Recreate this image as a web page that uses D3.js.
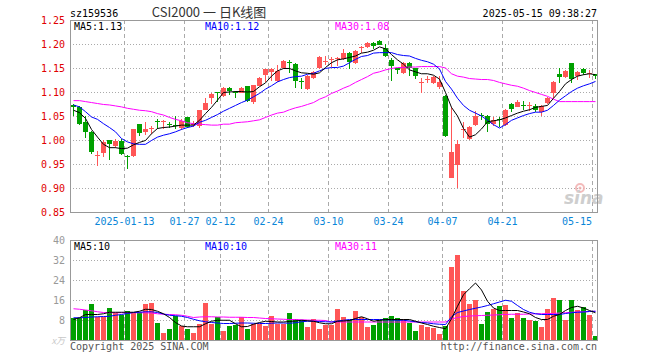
<!DOCTYPE html>
<html>
<head>
<meta charset="utf-8">
<script src="https://cdn.jsdelivr.net/npm/d3@7"></script>
<style>
  body { margin: 0; background: #fff; }
  text { font-family: "DejaVu Sans Mono", monospace; }
</style>
</head>
<body>
<div id="kline"></div>
<script>
// trading days shown on the chart
const dates = [
  "2024-12-30","2024-12-31","2025-01-02","2025-01-03","2025-01-06","2025-01-07","2025-01-08","2025-01-09","2025-01-10","2025-01-13",
  "2025-01-14","2025-01-15","2025-01-16","2025-01-17","2025-01-20","2025-01-21","2025-01-22","2025-01-23","2025-01-24","2025-01-27",
  "2025-02-05","2025-02-06","2025-02-07","2025-02-10","2025-02-11","2025-02-12","2025-02-13","2025-02-14","2025-02-17","2025-02-18",
  "2025-02-19","2025-02-20","2025-02-21","2025-02-24","2025-02-25","2025-02-26","2025-02-27","2025-02-28","2025-03-03","2025-03-04",
  "2025-03-05","2025-03-06","2025-03-07","2025-03-10","2025-03-11","2025-03-12","2025-03-13","2025-03-14","2025-03-17","2025-03-18",
  "2025-03-19","2025-03-20","2025-03-21","2025-03-24","2025-03-25","2025-03-26","2025-03-27","2025-03-28","2025-03-31","2025-04-01",
  "2025-04-02","2025-04-03","2025-04-07","2025-04-08","2025-04-09","2025-04-10","2025-04-11","2025-04-14","2025-04-15","2025-04-16",
  "2025-04-17","2025-04-18","2025-04-21","2025-04-22","2025-04-23","2025-04-24","2025-04-25","2025-04-28","2025-04-29","2025-04-30",
  "2025-05-06","2025-05-07","2025-05-08","2025-05-09","2025-05-12","2025-05-13","2025-05-14","2025-05-15"
];

const opens = [
  1.072,1.068,1.038,1.016,0.967,0.973,0.999,0.987,0.998,0.966,
  0.966,1.033,1.016,1.023,1.039,1.037,1.033,1.031,1.024,1.047,
  1.032,1.028,1.064,1.087,1.099,1.092,1.109,1.100,1.099,1.112,
  1.078,1.114,1.135,1.140,1.123,1.149,1.163,1.158,1.122,1.106,
  1.130,1.149,1.163,1.167,1.168,1.169,1.182,1.161,1.191,1.194,
  1.203,1.207,1.192,1.167,1.149,1.140,1.160,1.149,1.118,1.125,
  1.119,1.110,1.092,0.922,0.948,1.020,1.004,1.032,1.052,1.051,
  1.032,1.043,1.032,1.076,1.070,1.072,1.070,1.070,1.058,1.076,
  1.097,1.138,1.131,1.160,1.133,1.147,1.137,1.137
];
const highs = [
  1.074,1.070,1.049,1.018,0.978,0.999,1.000,1.003,1.002,0.968,
  1.023,1.034,1.038,1.029,1.043,1.041,1.038,1.049,1.043,1.048,
  1.040,1.063,1.088,1.098,1.101,1.111,1.110,1.102,1.111,1.113,
  1.115,1.132,1.148,1.149,1.156,1.166,1.166,1.160,1.130,1.135,
  1.144,1.174,1.176,1.172,1.172,1.190,1.184,1.188,1.196,1.205,
  1.205,1.209,1.199,1.170,1.151,1.162,1.162,1.151,1.130,1.133,
  1.134,1.134,1.093,1.068,1.000,1.038,1.030,1.060,1.056,1.052,
  1.048,1.048,1.064,1.077,1.083,1.082,1.080,1.076,1.073,1.090,
  1.122,1.150,1.145,1.161,1.143,1.150,1.146,1.138
];
const lows = [
  1.050,1.031,1.004,0.970,0.945,0.964,0.959,0.983,0.968,0.940,
  0.964,1.008,1.010,1.012,1.022,1.022,1.024,1.022,1.020,1.024,
  1.028,1.026,1.062,1.076,1.080,1.090,1.093,1.088,1.097,1.079,
  1.074,1.112,1.121,1.122,1.121,1.147,1.140,1.109,1.106,1.104,
  1.128,1.147,1.157,1.152,1.154,1.167,1.147,1.159,1.182,1.192,
  1.189,1.197,1.173,1.123,1.137,1.138,1.134,1.127,1.098,1.119,
  1.117,1.106,1.006,0.920,0.900,1.004,1.000,1.030,1.041,1.016,
  1.030,1.028,1.030,1.058,1.068,1.062,1.061,1.059,1.051,1.074,
  1.087,1.119,1.129,1.119,1.126,1.136,1.130,1.128
];
const closes = [
  1.068,1.033,1.017,0.975,0.969,0.995,0.990,0.997,0.970,0.963,
  1.022,1.015,1.022,1.025,1.037,1.039,1.030,1.029,1.039,1.026,
  1.034,1.062,1.078,1.096,1.097,1.109,1.103,1.098,1.109,1.081,
  1.114,1.130,1.147,1.147,1.144,1.164,1.161,1.122,1.120,1.133,
  1.142,1.172,1.165,1.169,1.170,1.181,1.163,1.186,1.193,1.203,
  1.196,1.199,1.175,1.154,1.144,1.160,1.149,1.132,1.120,1.127,
  1.131,1.121,1.008,0.976,0.992,1.022,1.028,1.051,1.050,1.034,
  1.041,1.041,1.063,1.065,1.080,1.070,1.072,1.061,1.071,1.087,
  1.120,1.131,1.144,1.126,1.141,1.138,1.140,1.133
];

// moving averages as drawn on the price panel
const ma5 = [
  1.062,1.057,1.045,1.022,1.006,0.991,0.984,0.984,0.982,0.983,
  0.990,0.995,0.999,1.013,1.024,1.026,1.027,1.029,1.031,1.031,
  1.031,1.041,1.055,1.068,1.083,1.099,1.100,1.101,1.101,1.100,
  1.101,1.111,1.119,1.133,1.144,1.149,1.149,1.144,1.140,1.139,
  1.137,1.140,1.151,1.161,1.167,1.169,1.172,1.175,1.181,1.183,
  1.187,1.194,1.190,1.178,1.167,1.158,1.146,1.142,1.138,1.138,
  1.135,1.127,1.099,1.068,1.050,1.024,1.006,1.011,1.023,1.038,
  1.040,1.042,1.046,1.051,1.056,1.060,1.063,1.068,1.070,1.072,
  1.087,1.101,1.117,1.126,1.133,1.136,1.138,1.136
];
const ma10 = [
  1.073,1.069,1.059,1.048,1.043,1.034,1.026,1.017,1.003,0.996,
  0.992,0.991,0.991,0.999,1.006,1.010,1.013,1.017,1.022,1.026,
  1.029,1.037,1.041,1.047,1.053,1.060,1.066,1.072,1.078,1.083,
  1.090,1.097,1.106,1.113,1.121,1.126,1.130,1.132,1.133,1.137,
  1.139,1.144,1.149,1.151,1.151,1.154,1.161,1.168,1.174,1.176,
  1.181,1.182,1.182,1.182,1.178,1.176,1.175,1.170,1.166,1.163,
  1.158,1.148,1.122,1.106,1.087,1.072,1.062,1.056,1.050,1.041,
  1.032,1.025,1.032,1.041,1.046,1.051,1.055,1.058,1.058,1.062,
  1.072,1.083,1.092,1.101,1.108,1.113,1.117,1.122
];
const ma30 = [
  1.082,1.082,1.080,1.078,1.076,1.074,1.073,1.071,1.069,1.066,
  1.064,1.062,1.061,1.059,1.055,1.052,1.047,1.043,1.040,1.036,
  1.034,1.033,1.032,1.031,1.031,1.033,1.033,1.036,1.037,1.038,
  1.040,1.042,1.047,1.052,1.056,1.058,1.063,1.067,1.070,1.074,
  1.078,1.085,1.090,1.097,1.102,1.108,1.113,1.120,1.126,1.132,
  1.139,1.142,1.146,1.149,1.151,1.151,1.152,1.152,1.153,1.153,
  1.153,1.153,1.150,1.138,1.133,1.131,1.128,1.127,1.126,1.126,
  1.124,1.120,1.117,1.114,1.112,1.108,1.103,1.099,1.095,1.091,
  1.085,1.080,1.080,1.080,1.080,1.080,1.080,1.080
];

// volume (万) and its averages
const volumes = [
  8.9,8.9,12.2,14.6,9.3,9.3,13.0,10.9,9.9,11.8,
  10.9,11.1,14.6,15.0,7.0,3.0,4.6,9.8,5.6,4.6,
  3.0,6.6,15.0,6.6,9.1,3.6,5.6,6.2,9.4,4.6,
  6.6,6.6,5.8,9.8,6.6,6.6,11.0,8.5,7.9,5.2,
  8.5,4.6,6.2,6.2,12.6,9.1,7.9,11.8,9.1,5.4,
  6.2,7.9,9.0,9.8,9.0,8.5,7.0,3.8,6.2,5.4,
  5.0,2.6,5.8,29.3,34.0,19.7,14.6,15.9,6.6,11.1,
  12.6,13.8,14.2,9.0,10.7,9.0,8.2,7.4,5.4,12.6,
  16.7,16.2,7.9,16.2,12.2,13.1,10.2,1.5
];
const vma5 = [
  8.2,8.9,10.2,10.2,10.2,10.5,11.1,11.1,11.1,11.1,
  11.1,11.5,12.3,12.2,11.5,10.5,9.0,7.0,5.6,5.3,
  5.3,5.3,6.5,7.5,7.9,7.9,7.9,6.5,5.3,5.4,
  6.3,7.0,7.5,7.4,7.2,7.2,7.4,7.6,7.9,7.7,
  7.5,6.9,6.5,6.5,7.5,7.6,7.8,8.6,9.3,8.5,
  7.5,7.9,8.2,8.2,8.2,8.2,8.2,7.5,6.8,6.2,
  5.5,5.0,4.5,8.5,13.5,18.1,20.5,22.8,20.0,15.5,
  12.8,11.8,11.8,11.8,11.8,11.2,10.5,9.0,8.2,8.2,
  9.5,10.2,11.8,13.0,13.5,12.8,11.8,10.9
];
const vma10 = [
  8.9,8.9,9.0,9.2,9.3,9.4,9.5,9.9,10.2,10.6,
  11.0,11.1,11.3,11.3,11.0,10.4,9.9,9.7,9.5,9.0,
  8.3,7.7,7.3,7.0,6.8,6.6,6.6,6.7,6.8,6.8,
  6.7,6.6,6.6,6.7,6.8,6.8,6.7,6.9,7.3,7.5,
  7.5,7.4,7.3,7.2,7.6,7.9,8.2,8.2,8.2,8.2,
  8.2,8.2,8.1,8.0,7.9,7.9,7.6,7.3,7.0,6.8,
  6.5,6.3,6.2,9.3,11.0,11.6,12.2,12.7,13.2,13.8,
  14.5,15.2,15.9,15.5,13.8,12.2,11.1,10.5,10.2,10.2,
  10.2,10.2,10.6,10.9,11.1,11.2,11.4,11.5
];
const vma30 = [
  12.5,12.3,12.0,11.7,11.3,11.0,10.9,10.9,10.9,10.9,
  10.9,10.9,10.9,10.8,10.5,10.3,10.2,10.1,9.9,9.5,
  9.0,9.2,9.3,9.3,9.2,9.2,9.1,9.1,9.1,9.0,
  9.0,8.8,8.6,8.5,8.4,8.3,8.2,8.2,8.1,8.0,
  7.9,7.9,7.8,7.2,7.2,7.2,7.2,7.2,7.2,7.2,
  7.2,7.2,7.2,7.2,7.2,7.2,7.2,7.2,7.2,7.2,
  7.2,7.2,7.2,8.4,9.0,9.4,9.6,9.7,9.8,9.9,
  10.0,10.1,10.2,10.3,10.3,10.3,10.4,10.5,10.5,10.6,
  10.6,10.8,10.9,11.1,11.2,11.3,11.4,11.5
];

// axis ticks and labels
const tickDates = ["2025-01-13","2025-01-27","2025-02-12","2025-02-24","2025-03-10","2025-03-24","2025-04-07","2025-04-21","2025-05-15"];
const tickLabels = ["2025-01-13","01-27","02-12","02-24","03-10","03-24","04-07","04-21","05-15"];
const priceTicks = [0.85, 0.90, 0.95, 1.00, 1.05, 1.10, 1.15, 1.20, 1.25];
const volTicks = [8, 16, 24, 32, 40];
const priceMaLabels = ["MA5:1.13", "MA10:1.12", "MA30:1.08"];
const volMaLabels = ["MA5:10", "MA10:10", "MA30:11"];

const width = 660, height = 360;
const left = 70, right = 598;
const red = "#ff5656", green = "#00a000";
const maColours = ["#000000", "#0000ff", "#ff00ff"];

const svg = d3.select("#kline")
  .append("svg")
  .attr("width", width)
  .attr("height", height)
  .style("display", "block")
  .style("background", "#fff");

const x = d3.scaleBand().domain(dates).range([left, right]);
const y = d3.scaleLinear().domain([0.85, 1.25]).range([212, 20]);
const yv = d3.scaleLinear().domain([0, 40]).range([340, 240]);
const cx = d => x(d) + 3.5;

// header
svg.append("text").attr("x", 70).attr("y", 17).attr("font-size", 10).attr("fill", "#000").text("sz159536");
svg.append("text").attr("x", 209).attr("y", 17).attr("text-anchor", "middle")
  .attr("font-size", 13).attr("fill", "#333")
  .style("font-family", "'Noto Sans CJK SC', sans-serif")
  .text("CSI2000 一 日K线图");
svg.append("text").attr("x", 597).attr("y", 17).attr("text-anchor", "end")
  .attr("font-size", 10).attr("fill", "#000").text("2025-05-15 09:38:27");

// grid: horizontal dotted
const grid = svg.append("g").attr("shape-rendering", "crispEdges");
grid.selectAll(".hp")
  .data(priceTicks.slice(1, -1))
  .enter().append("line")
  .attr("x1", left).attr("x2", right)
  .attr("y1", d => Math.round(y(d)) + 0.5).attr("y2", d => Math.round(y(d)) + 0.5)
  .attr("stroke", "#aaa").attr("stroke-dasharray", "1,2");
grid.selectAll(".hv")
  .data(volTicks.slice(0, -1))
  .enter().append("line")
  .attr("x1", left).attr("x2", right)
  .attr("y1", d => yv(d) + 0.5).attr("y2", d => yv(d) + 0.5)
  .attr("stroke", "#aaa").attr("stroke-dasharray", "1,2");

// grid: vertical dashed
[[20, 212], [240, 340]].forEach(([t, b]) => {
  grid.selectAll(null)
    .data(tickDates)
    .enter().append("line")
    .attr("x1", d => x(d) + 0.5).attr("x2", d => x(d) + 0.5)
    .attr("y1", t).attr("y2", b)
    .attr("stroke", "#aaa").attr("stroke-dasharray", "4,3");
});

// sina watermark
const logo = svg.append("g").attr("opacity", 0.85);
logo.append("circle").attr("cx", 580).attr("cy", 188).attr("r", 4)
  .attr("fill", "none").attr("stroke", "#f2b0b0").attr("stroke-width", 2);
logo.append("circle").attr("cx", 580).attr("cy", 188).attr("r", 1.5).attr("fill", "#eeaaaa");
logo.append("text").attr("x", 564).attr("y", 204)
  .attr("font-size", 17).attr("font-weight", "bold").attr("font-style", "italic")
  .attr("fill", "#c6c6c6").style("font-family", "'DejaVu Sans', sans-serif")
  .text("sina");

// candles
const candles = svg.append("g").attr("shape-rendering", "crispEdges");
const idx = d3.range(dates.length);
const colour = i => closes[i] >= opens[i] ? red : green;

candles.selectAll(".wick")
  .data(idx)
  .enter().append("line")
  .attr("x1", i => cx(dates[i])).attr("x2", i => cx(dates[i]))
  .attr("y1", i => Math.round(y(highs[i]))).attr("y2", i => Math.round(y(lows[i])))
  .attr("stroke", colour);

candles.selectAll(".body")
  .data(idx)
  .enter().append("rect")
  .attr("x", i => x(dates[i]) + 1)
  .attr("width", 5)
  .attr("y", i => Math.round(y(Math.max(opens[i], closes[i]))))
  .attr("height", i => Math.max(1, Math.round(Math.abs(y(opens[i]) - y(closes[i])))))
  .attr("fill", colour);

// price moving averages
const priceLine = d3.line().x((d, i) => cx(dates[i])).y(d => y(d));
[ma30, ma10, ma5].forEach((s, k) => {
  svg.append("path").datum(s)
    .attr("d", priceLine)
    .attr("fill", "none")
    .attr("stroke", maColours[2 - k])
    .attr("stroke-width", 1);
});

// volume bars
svg.append("g").attr("shape-rendering", "crispEdges")
  .selectAll("rect")
  .data(idx)
  .enter().append("rect")
  .attr("x", i => x(dates[i]) + 1)
  .attr("width", 5)
  .attr("y", i => Math.round(yv(volumes[i])))
  .attr("height", i => 340 - Math.round(yv(volumes[i])))
  .attr("fill", colour);

const volLine = d3.line().x((d, i) => cx(dates[i])).y(d => yv(d));
[vma30, vma10, vma5].forEach((s, k) => {
  svg.append("path").datum(s)
    .attr("d", volLine)
    .attr("fill", "none")
    .attr("stroke", maColours[2 - k])
    .attr("stroke-width", 1);
});

// panel borders
[[20, 212], [240, 340]].forEach(([t, b]) => {
  svg.append("rect")
    .attr("x", left + 0.5).attr("y", t + 0.5)
    .attr("width", right - left - 1).attr("height", b - t)
    .attr("fill", "none").attr("stroke", "#999")
    .attr("shape-rendering", "crispEdges");
});

// price axis labels
svg.selectAll(".py")
  .data(priceTicks)
  .enter().append("text")
  .attr("x", 65).attr("y", d => y(d) + 4)
  .attr("text-anchor", "end")
  .attr("font-size", 10).attr("fill", "#e00000")
  .text(d => d.toFixed(2));

// volume axis labels
svg.selectAll(".vy")
  .data(volTicks)
  .enter().append("text")
  .attr("x", 65).attr("y", d => yv(d) + 4)
  .attr("text-anchor", "end")
  .attr("font-size", 10).attr("fill", "#999")
  .text(d => d);
svg.append("text").attr("x", 65).attr("y", 344).attr("text-anchor", "end")
  .attr("font-size", 9).attr("fill", "#c8c8c8").attr("font-style", "italic")
  .style("font-family", "'Noto Sans CJK SC', sans-serif")
  .text("x万");

// date labels
svg.selectAll(".xl")
  .data(tickDates)
  .enter().append("text")
  .attr("x", (d, i) => {
    const w = tickLabels[i].length * 6;
    return Math.min(x(d) + 0.5, right - 6 - w / 2);
  })
  .attr("y", 225)
  .attr("text-anchor", "middle")
  .attr("font-size", 10).attr("fill", "#0a86d8")
  .text((d, i) => tickLabels[i]);

// MA legends
const legendX = [74, 205, 335];
priceMaLabels.forEach((t, k) => {
  svg.append("text").attr("x", legendX[k]).attr("y", 30)
    .attr("font-size", 10).attr("fill", maColours[k]).text(t);
});
volMaLabels.forEach((t, k) => {
  svg.append("text").attr("x", legendX[k]).attr("y", 250)
    .attr("font-size", 10).attr("fill", maColours[k]).text(t);
});

// footer
svg.append("text").attr("x", 70).attr("y", 350)
  .attr("font-size", 10).attr("fill", "#555").text("Copyright 2025 SINA.COM");
svg.append("text").attr("x", 597).attr("y", 350).attr("text-anchor", "end")
  .attr("font-size", 10).attr("fill", "#555").text("http://finance.sina.com.cn");
</script>
</body>
</html>
